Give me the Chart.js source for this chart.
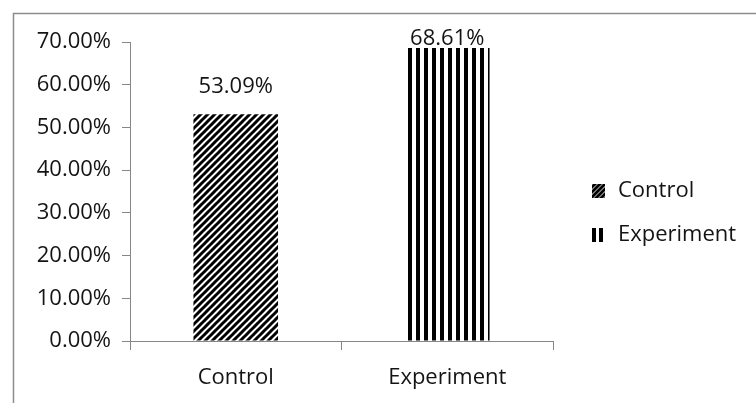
<!DOCTYPE html>
<html>
<head>
<meta charset="utf-8">
<script src="https://cdn.jsdelivr.net/npm/chart.js@4.4.1/dist/chart.umd.min.js"></script>
<style>
  html, body { margin: 0; padding: 0; background: #fff; }
  #wrap { width: 756px; height: 403px; }
</style>
</head>
<body>
<div id="wrap"><canvas id="c" width="756" height="403"></canvas></div>
<script>
// Share of correct answers per group (percent)
const categories = ['Control', 'Experiment'];
const groupNames = ['Control', 'Experiment'];
const controlValues = [53.09, null];
const experimentValues = [null, 68.61];
const yTicks = [0, 10, 20, 30, 40, 50, 60, 70];

const FONT = '"Open Sans", sans-serif';
const TEXT = '#141414';
const AXIS = '#878787';

// Hatch fills: upward diagonal for Control, vertical stripes for Experiment
function diagonalPattern() {
  const n = 7;
  const p = document.createElement('canvas');
  p.width = n; p.height = n;
  const g = p.getContext('2d');
  g.fillStyle = '#fff';
  g.fillRect(0, 0, n, n);
  g.strokeStyle = '#000';
  g.lineWidth = 3;
  g.beginPath();
  for (let k = -1; k <= 1; k++) {
    g.moveTo(k * n - 1, n + 1);
    g.lineTo(k * n + n + 1, -1);
  }
  g.stroke();
  return g.createPattern(p, 'repeat');
}
function verticalPattern() {
  const p = document.createElement('canvas');
  p.width = 8; p.height = 8;
  const g = p.getContext('2d');
  g.fillStyle = '#fff';
  g.fillRect(0, 0, 8, 8);
  g.fillStyle = '#000';
  g.fillRect(0, 0, 4, 8);
  return g.createPattern(p, 'repeat');
}
const diagFill = diagonalPattern();
const vertFill = verticalPattern();

const frame = {
  id: 'frame',
  beforeDraw(chart) {
    const ctx = chart.ctx;
    ctx.save();
    ctx.fillStyle = '#fff';
    ctx.fillRect(0, 0, chart.width, chart.height);
    ctx.strokeStyle = '#8c8c8c';
    ctx.lineWidth = 1.5;
    ctx.strokeRect(13.5, 13.5, 900, 600);
    ctx.restore();
  }
};

// Value labels above each bar
const valueLabels = {
  id: 'valueLabels',
  afterDatasetsDraw(chart, args, opts) {
    const ctx = chart.ctx;
    ctx.save();
    ctx.font = '22px ' + FONT;
    ctx.fillStyle = TEXT;
    ctx.textAlign = 'center';
    ctx.textBaseline = 'middle';
    chart.data.datasets.forEach((ds, di) => {
      const meta = chart.getDatasetMeta(di);
      ds.data.forEach((v, i) => {
        if (v === null) return;
        const bar = meta.data[i];
        ctx.fillText(v.toFixed(2) + '%', bar.x, bar.y - opts.lift[di]);
      });
    });
    ctx.restore();
  }
};

// Legend on the right side
const sideLegend = {
  id: 'sideLegend',
  afterDraw(chart, args, opts) {
    const ctx = chart.ctx;
    ctx.save();
    ctx.font = '22px ' + FONT;
    ctx.fillStyle = TEXT;
    ctx.textBaseline = 'middle';
    chart.data.datasets.forEach((ds, di) => {
      const y = opts.rows[di];
      const x = opts.x;
      if (di === 0) {
        ctx.save();
        ctx.beginPath();
        ctx.rect(x, y - 7, 13, 14);
        ctx.clip();
        ctx.strokeStyle = '#000';
        ctx.lineWidth = 3;
        ctx.beginPath();
        for (let k = -2; k <= 3; k++) {
          ctx.moveTo(x + k * 5 - 2, y + 8);
          ctx.lineTo(x + k * 5 + 14, y - 8);
        }
        ctx.stroke();
        ctx.restore();
      } else {
        ctx.fillStyle = '#000';
        ctx.fillRect(x, y - 7, 4, 14);
        ctx.fillRect(x + 7, y - 7, 4, 14);
        ctx.fillStyle = TEXT;
      }
      ctx.fillText(ds.label, x + 26, y);
    });
    ctx.restore();
  }
};

new Chart(document.getElementById('c'), {
  type: 'bar',
  data: {
    labels: categories,
    datasets: [
      { label: groupNames[0], data: controlValues, backgroundColor: diagFill, borderWidth: 0 },
      { label: groupNames[1], data: experimentValues, backgroundColor: vertFill, borderWidth: 0 }
    ]
  },
  options: {
    responsive: false,
    animation: false,
    devicePixelRatio: 1,
    layout: { padding: { top: 42, right: 203, left: 0, bottom: 0 } },
    datasets: { bar: { grouped: false, categoryPercentage: 1, barPercentage: 0.4 } },
    plugins: {
      legend: { display: false },
      tooltip: { enabled: false },
      valueLabels: { lift: [27, 9] },
      sideLegend: { x: 592, rows: [191, 235] }
    },
    scales: {
      x: {
        grid: { display: true, drawOnChartArea: false, offset: true, color: AXIS, tickLength: 9 },
        border: { color: AXIS, width: 1 },
        ticks: { color: TEXT, font: { family: FONT, size: 22 }, padding: 15, maxRotation: 0 },
        afterFit(scale) { scale.height = 62; }
      },
      y: {
        min: 0, max: 70,
        afterBuildTicks(scale) { scale.ticks = yTicks.map(v => ({ value: v })); },
        grid: { display: true, drawOnChartArea: false, color: AXIS, tickLength: 8 },
        border: { color: AXIS, width: 1 },
        ticks: {
          color: TEXT, font: { family: FONT, size: 22 }, padding: 11,
          callback: v => v.toFixed(2) + '%'
        },
        afterFit(scale) { scale.width = 130; }
      }
    }
  },
  plugins: [frame, valueLabels, sideLegend]
});
</script>
</body>
</html>
